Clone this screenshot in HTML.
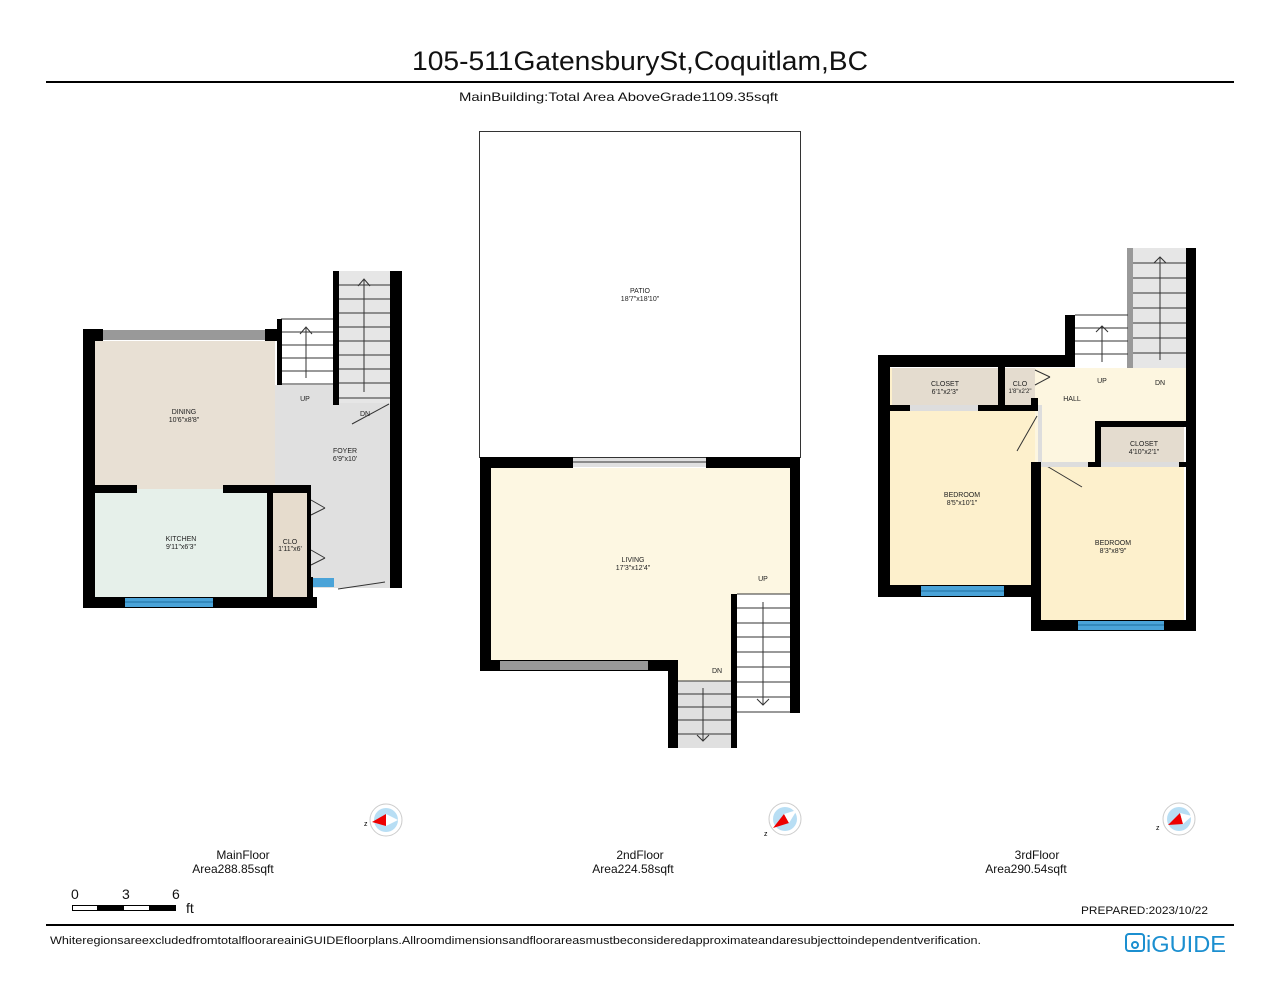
<!DOCTYPE html>
<html><head><meta charset="utf-8"><style>
html,body{margin:0;padding:0;background:#fff;}
svg{display:block;font-family:"Liberation Sans",sans-serif;}
</style></head><body>
<svg width="1280" height="989" viewBox="0 0 1280 989" xmlns="http://www.w3.org/2000/svg">
<rect width="1280" height="989" fill="#fff"/>
<text x="412" y="70" font-size="27" textLength="456" lengthAdjust="spacingAndGlyphs" fill="#111">105-511GatensburySt,Coquitlam,BC</text>
<rect x="46" y="81" width="1188" height="2" fill="#000"/>
<text x="459" y="101" font-size="12" textLength="319" lengthAdjust="spacingAndGlyphs" fill="#111">MainBuilding:Total Area AboveGrade1109.35sqft</text>

<!-- MAIN FLOOR -->
<rect x="94" y="341" width="181" height="148" fill="#e8e0d4"/>
<rect x="275" y="385" width="116" height="203" fill="#e0e0e0"/>
<rect x="95" y="489" width="172" height="108" fill="#e6f0ea"/>
<rect x="273" y="493" width="34" height="104" fill="#e6dccd"/>
<rect x="281" y="319" width="52" height="66" fill="#fff"/>
<rect x="339" y="271" width="51" height="132" fill="#e6e6e6"/>
<g stroke="#333" stroke-width="1">
<line x1="281" y1="319" x2="333" y2="319"/><line x1="281" y1="332" x2="333" y2="332"/><line x1="281" y1="345" x2="333" y2="345"/><line x1="281" y1="358" x2="333" y2="358"/><line x1="281" y1="371" x2="333" y2="371"/><line x1="281" y1="384" x2="333" y2="384"/>
<line x1="339" y1="285" x2="390" y2="285"/><line x1="339" y1="299" x2="390" y2="299"/><line x1="339" y1="313" x2="390" y2="313"/><line x1="339" y1="327" x2="390" y2="327"/><line x1="339" y1="341" x2="390" y2="341"/><line x1="339" y1="355" x2="390" y2="355"/><line x1="339" y1="369" x2="390" y2="369"/><line x1="339" y1="383" x2="390" y2="383"/><line x1="339" y1="398" x2="390" y2="398"/>
<line x1="306" y1="378" x2="306" y2="328"/><polyline points="300,334 306,327 312,334" fill="none"/>
<line x1="364" y1="392" x2="364" y2="280"/><polyline points="358,286 364,279 370,286" fill="none"/>
<line x1="352" y1="424" x2="389" y2="404"/><line x1="338" y1="589" x2="385" y2="582"/><line x1="311" y1="500" x2="325" y2="508"/><line x1="311" y1="515" x2="325" y2="508"/><line x1="311" y1="550" x2="325" y2="558"/><line x1="311" y1="565" x2="325" y2="558"/>
</g>
<g fill="#000">
<rect x="83" y="329" width="12" height="279"/><rect x="83" y="329" width="20" height="12"/><rect x="265" y="329" width="12" height="12"/>
<rect x="277" y="319" width="5" height="66"/>
<rect x="333" y="271" width="6" height="134"/><rect x="390" y="271" width="12" height="317"/>
<rect x="95" y="485" width="42" height="8"/><rect x="223" y="485" width="88" height="8"/>
<rect x="267" y="489" width="6" height="110"/><rect x="307" y="493" width="4" height="115"/>
<rect x="83" y="597" width="234" height="11"/><rect x="307" y="577" width="6" height="31"/>
</g>
<rect x="103" y="330" width="162" height="10" fill="#999"/>
<rect x="125" y="598" width="88" height="9" fill="#4aa3d8"/><line x1="125" y1="602" x2="213" y2="602" stroke="#1e6fa0"/>
<rect x="313" y="578" width="21" height="9" fill="#4aa3d8"/>
<g font-size="7" text-anchor="middle" fill="#222">
<text x="184" y="414">DINING</text><text x="184" y="422">10'6"x8'8"</text>
<text x="345" y="453">FOYER</text><text x="345" y="461">6'9"x10'</text>
<text x="181" y="541">KITCHEN</text><text x="181" y="549">9'11"x6'3"</text>
<text x="290" y="544">CLO</text><text x="290" y="551">1'11"x6'</text>
<text x="305" y="401">UP</text><text x="365" y="416">DN</text>
</g>

<!-- 2ND FLOOR -->
<rect x="479.5" y="131.5" width="321" height="326" fill="#fff" stroke="#333"/>
<text x="640" y="293" font-size="7" text-anchor="middle" fill="#222">PATIO</text>
<text x="640" y="301" font-size="7" text-anchor="middle" fill="#222">18'7"x18'10"</text>
<rect x="491" y="468" width="299" height="192" fill="#fdf7e2"/>
<rect x="678" y="660" width="55" height="21" fill="#fdf7e2"/>
<rect x="678" y="681" width="53" height="67" fill="#e0e0e0"/>
<rect x="737" y="594" width="53" height="119" fill="#fff"/>
<g stroke="#333" stroke-width="1">
<line x1="678" y1="681" x2="731" y2="681"/><line x1="678" y1="694" x2="731" y2="694"/><line x1="678" y1="707" x2="731" y2="707"/><line x1="678" y1="720" x2="731" y2="720"/><line x1="678" y1="734" x2="731" y2="734"/>
<line x1="737" y1="594" x2="790" y2="594"/><line x1="737" y1="608" x2="790" y2="608"/><line x1="737" y1="623" x2="790" y2="623"/><line x1="737" y1="637" x2="790" y2="637"/><line x1="737" y1="652" x2="790" y2="652"/><line x1="737" y1="667" x2="790" y2="667"/><line x1="737" y1="682" x2="790" y2="682"/><line x1="737" y1="697" x2="790" y2="697"/><line x1="737" y1="712" x2="790" y2="712"/>
<line x1="703" y1="688" x2="703" y2="741"/><polyline points="697,735 703,741 709,735" fill="none"/>
<line x1="763" y1="602" x2="763" y2="705"/><polyline points="757,699 763,705 769,699" fill="none"/>
</g>
<g fill="#000">
<rect x="480" y="457" width="11" height="214"/><rect x="480" y="457" width="93" height="11"/><rect x="706" y="457" width="94" height="11"/>
<rect x="790" y="457" width="10" height="256"/><rect x="480" y="660" width="198" height="11"/>
<rect x="668" y="660" width="10" height="88"/><rect x="731" y="594" width="6" height="154"/>
</g>
<rect x="573" y="458" width="133" height="9" fill="#e0e0e0"/><line x1="573" y1="462" x2="706" y2="462" stroke="#333"/>
<rect x="500" y="661" width="148" height="9" fill="#999"/>
<g font-size="7" text-anchor="middle" fill="#222">
<text x="633" y="562">LIVING</text><text x="633" y="570">17'3"x12'4"</text>
<text x="763" y="581">UP</text><text x="717" y="673">DN</text>
</g>

<!-- 3RD FLOOR -->
<rect x="890" y="368" width="145" height="217" fill="#fdf0cc"/>
<rect x="1035" y="368" width="151" height="53" fill="#fdf6e0"/>
<rect x="1035" y="421" width="60" height="46" fill="#fdf6e0"/>
<rect x="1041" y="467" width="143" height="153" fill="#fdf0cc"/>
<rect x="892" y="368" width="106" height="37" fill="#e4dccf"/>
<rect x="1005" y="368" width="30" height="37" fill="#e4dccf"/>
<rect x="1101" y="427" width="83" height="38" fill="#e4dccf"/>
<rect x="1075" y="315" width="53" height="53" fill="#fff"/>
<rect x="1128" y="248" width="58" height="120" fill="#e6e6e6"/>
<rect x="1127" y="248" width="6" height="120" fill="#999"/>
<g stroke="#333" stroke-width="1">
<line x1="1075" y1="315" x2="1128" y2="315"/><line x1="1075" y1="328" x2="1128" y2="328"/><line x1="1075" y1="341" x2="1128" y2="341"/><line x1="1075" y1="354" x2="1128" y2="354"/>
<line x1="1133" y1="263" x2="1186" y2="263"/><line x1="1133" y1="278" x2="1186" y2="278"/><line x1="1133" y1="293" x2="1186" y2="293"/><line x1="1133" y1="308" x2="1186" y2="308"/><line x1="1133" y1="323" x2="1186" y2="323"/><line x1="1133" y1="338" x2="1186" y2="338"/><line x1="1133" y1="353" x2="1186" y2="353"/>
<line x1="1102" y1="362" x2="1102" y2="326"/><polyline points="1096,332 1102,326 1108,332" fill="none"/>
<line x1="1160" y1="360" x2="1160" y2="257"/><polyline points="1154,263 1160,257 1166,263" fill="none"/>
<line x1="1037" y1="416" x2="1017" y2="451"/><line x1="1045" y1="465" x2="1082" y2="487"/>
<line x1="1035" y1="370" x2="1050" y2="377"/><line x1="1035" y1="385" x2="1050" y2="377"/>
</g>
<g fill="#000">
<rect x="878" y="355" width="197" height="12"/><rect x="878" y="355" width="12" height="242"/>
<rect x="1065" y="315" width="10" height="52"/><rect x="1186" y="248" width="10" height="383"/>
<rect x="998" y="367" width="7" height="44"/><rect x="890" y="405" width="20" height="6"/><rect x="978" y="405" width="60" height="6"/>
<rect x="1031" y="398" width="7" height="7"/>
<rect x="1095" y="421" width="101" height="6"/><rect x="1095" y="421" width="6" height="46"/>
<rect x="1031" y="462" width="10" height="169"/><rect x="1088" y="462" width="13" height="5"/><rect x="1179" y="462" width="7" height="5"/>
<rect x="878" y="585" width="155" height="12"/><rect x="1031" y="620" width="165" height="11"/>
</g>
<rect x="1038" y="405" width="4" height="57" fill="#ddd"/>
<rect x="910" y="405" width="68" height="6" fill="#ddd"/>
<rect x="1041" y="462" width="47" height="5" fill="#ddd"/>
<rect x="1101" y="462" width="78" height="5" fill="#ddd"/>
<rect x="921" y="586" width="83" height="10" fill="#4aa3d8"/><line x1="921" y1="591" x2="1004" y2="591" stroke="#1e6fa0"/>
<rect x="1078" y="621" width="86" height="9" fill="#4aa3d8"/><line x1="1078" y1="625" x2="1164" y2="625" stroke="#1e6fa0"/>
<g font-size="7" text-anchor="middle" fill="#222">
<text x="945" y="386">CLOSET</text><text x="945" y="394">6'1"x2'3"</text>
<text x="1020" y="386">CLO</text><text x="1020" y="393" font-size="6">1'8"x2'2"</text>
<text x="1072" y="401">HALL</text><text x="1102" y="383">UP</text><text x="1160" y="385">DN</text>
<text x="1144" y="446">CLOSET</text><text x="1144" y="454">4'10"x2'1"</text>
<text x="962" y="497">BEDROOM</text><text x="962" y="505">8'5"x10'1"</text>
<text x="1113" y="545">BEDROOM</text><text x="1113" y="553">8'3"x8'9"</text>
</g>

<!-- Compasses -->
<g>
<circle cx="386" cy="820" r="16" fill="#fff" stroke="#ccc"/><circle cx="386" cy="820" r="12" fill="#b8def4"/>
<polygon points="372,822 386,814 386,826" fill="#e00"/><polygon points="386,814 398,820 386,826" fill="#fff"/>
<text x="364" y="826" font-size="7">z</text>
<circle cx="785" cy="819" r="16" fill="#fff" stroke="#ccc"/><circle cx="785" cy="819" r="12" fill="#b8def4"/>
<polygon points="773,828 784,814 789,823" fill="#e00"/><polygon points="784,814 797,810 789,823" fill="#fff"/>
<text x="764" y="836" font-size="7">z</text>
<circle cx="1179" cy="819" r="16" fill="#fff" stroke="#ccc"/><circle cx="1179" cy="819" r="12" fill="#b8def4"/>
<polygon points="1168,825 1180,813 1183,824" fill="#e00"/><polygon points="1180,813 1192,816 1183,824" fill="#fff"/>
<text x="1156" y="830" font-size="7">z</text>
</g>

<g font-size="12" text-anchor="middle" fill="#111">
<text x="243" y="859">MainFloor</text><text x="233" y="873">Area288.85sqft</text>
<text x="640" y="859">2ndFloor</text><text x="633" y="873">Area224.58sqft</text>
<text x="1037" y="859">3rdFloor</text><text x="1026" y="873">Area290.54sqft</text>
</g>
<g font-size="14" fill="#111">
<text x="71" y="899">0</text><text x="122" y="899">3</text><text x="172" y="899">6</text><text x="186" y="913">ft</text>
</g>
<rect x="72.5" y="905.5" width="103" height="5" fill="#fff" stroke="#000"/>
<rect x="97" y="905" width="27" height="6" fill="#000"/><rect x="149" y="905" width="27" height="6" fill="#000"/>
<text x="1081" y="914" font-size="11" textLength="127" lengthAdjust="spacingAndGlyphs" fill="#111">PREPARED:2023/10/22</text>
<rect x="46" y="924" width="1188" height="2" fill="#000"/>
<text x="50" y="944" font-size="11" textLength="931" lengthAdjust="spacingAndGlyphs" fill="#111">WhiteregionsareexcludedfromtotalfloorareainiGUIDEfloorplans.Allroomdimensionsandfloorareasmustbeconsideredapproximateandaresubjecttoindependentverification.</text>
<rect x="1126" y="934" width="18" height="17" rx="3" fill="none" stroke="#1b8fd0" stroke-width="2"/>
<circle cx="1135" cy="945" r="3" fill="none" stroke="#1b8fd0" stroke-width="2"/>
<text x="1146" y="952" font-size="23" textLength="80" lengthAdjust="spacingAndGlyphs" fill="#1b8fd0">iGUIDE</text>
</svg>
</body></html>
